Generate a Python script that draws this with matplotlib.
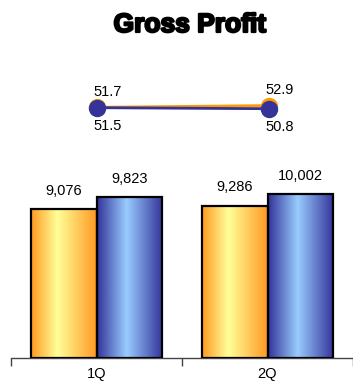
import numpy as np
import matplotlib
matplotlib.use("Agg")
import matplotlib.pyplot as plt
import matplotlib.patheffects as pe
from matplotlib.colors import LinearSegmentedColormap

categories = ["1Q", "2Q"]
bars_prev = [9076, 9286]
bars_curr = [9823, 10002]
line_prev = [51.7, 52.9]
line_curr = [51.5, 50.8]
title = "Gross Profit"

W, H = 353, 384
fig = plt.figure(figsize=(W / 100, H / 100), dpi=100)
plt.rcParams['font.family'] = ['Liberation Sans', 'DejaVu Sans']

def fx(px):
    return px / W

def fy(py):
    return (H - py) / H

ax_l = 11
axb = fig.add_axes([fx(ax_l), fy(358), 1 - fx(ax_l), 197 / H])
x = np.arange(len(categories))
w = 0.385
xlim = (-0.5, -0.5 + (W - ax_l) / 172.0)
axb.set_xlim(*xlim)
axb.set_ylim(0, 12000)

orange_cmap = LinearSegmentedColormap.from_list(
    "o", [(0, "#FF9922"), (0.4, "#FFFF99"), (1, "#FF9922")])
blue_cmap = LinearSegmentedColormap.from_list(
    "b", [(0, "#333399"), (0.45, "#99CCFF"), (1, "#333399")])

grad = np.linspace(0, 1, 256).reshape(1, -1)
b1 = axb.bar(x - w / 2, bars_prev, w, facecolor="none", edgecolor="black", linewidth=1.6, zorder=3)
b2 = axb.bar(x + w / 2, bars_curr, w, facecolor="none", edgecolor="black", linewidth=1.6, zorder=3)
for bars, cmap in ((b1, orange_cmap), (b2, blue_cmap)):
    for r in bars:
        x0, y0 = r.get_x(), r.get_y()
        im = axb.imshow(grad, cmap=cmap, aspect="auto",
                        extent=(x0, x0 + r.get_width(), y0, y0 + r.get_height()),
                        zorder=2)
        im.set_clip_path(r)
axb.set_xlim(*xlim)
axb.set_ylim(0, 12000)

for bars, vals in ((b1, bars_prev), (b2, bars_curr)):
    for r, v in zip(bars, vals):
        axb.annotate(f"{v:,}", (r.get_x() + r.get_width() / 2, r.get_height()),
                     xytext=(0, 8), textcoords="offset points",
                     ha="center", va="bottom", fontsize=10.5)

for s in ("top", "left", "right"):
    axb.spines[s].set_visible(False)
axb.spines["bottom"].set_color("#444444")
axb.spines["bottom"].set_linewidth(1.0)
axb.set_yticks([])
axb.set_xticks(x)
axb.set_xticklabels(categories, fontsize=10.5)
axb.tick_params(axis="x", which="major", length=0, pad=6.5)
axb.set_xticks([-0.5, 0.5, 1.5], minor=True)
axb.tick_params(axis="x", which="minor", length=6, width=1.0, color="#444444")

# line axes
axl = fig.add_axes([fx(ax_l), fy(160), 1 - fx(ax_l), 100 / H])
axl.set_xlim(*xlim)
axl.set_ylim(14.9, 84.9)
axl.axis("off")
axl.plot(x, line_prev, color="#FF9900", lw=2.2, marker="o", ms=11.5,
         mfc="#FF9900", mec="#FF9900", zorder=2, clip_on=False)
axl.plot(x, line_curr, color="#333399", lw=2.0, marker="o", ms=11.5,
         mfc="#333399", mec="#333399", zorder=3, clip_on=False)
for xi, v in zip(x, line_prev):
    axl.annotate(f"{v}", (xi, v), xytext=(8, 6), textcoords="offset points",
                 ha="center", va="bottom", fontsize=10.5)
for xi, v in zip(x, line_curr):
    axl.annotate(f"{v}", (xi, v), xytext=(8, -8), textcoords="offset points",
                 ha="center", va="top", fontsize=10.5)

fig.text(fx(190), fy(25), title, ha="center", va="center", fontsize=19,
         fontweight="heavy",
         path_effects=[pe.withStroke(linewidth=1.6, foreground="black")])

fig.savefig("out.png", dpi=100)
